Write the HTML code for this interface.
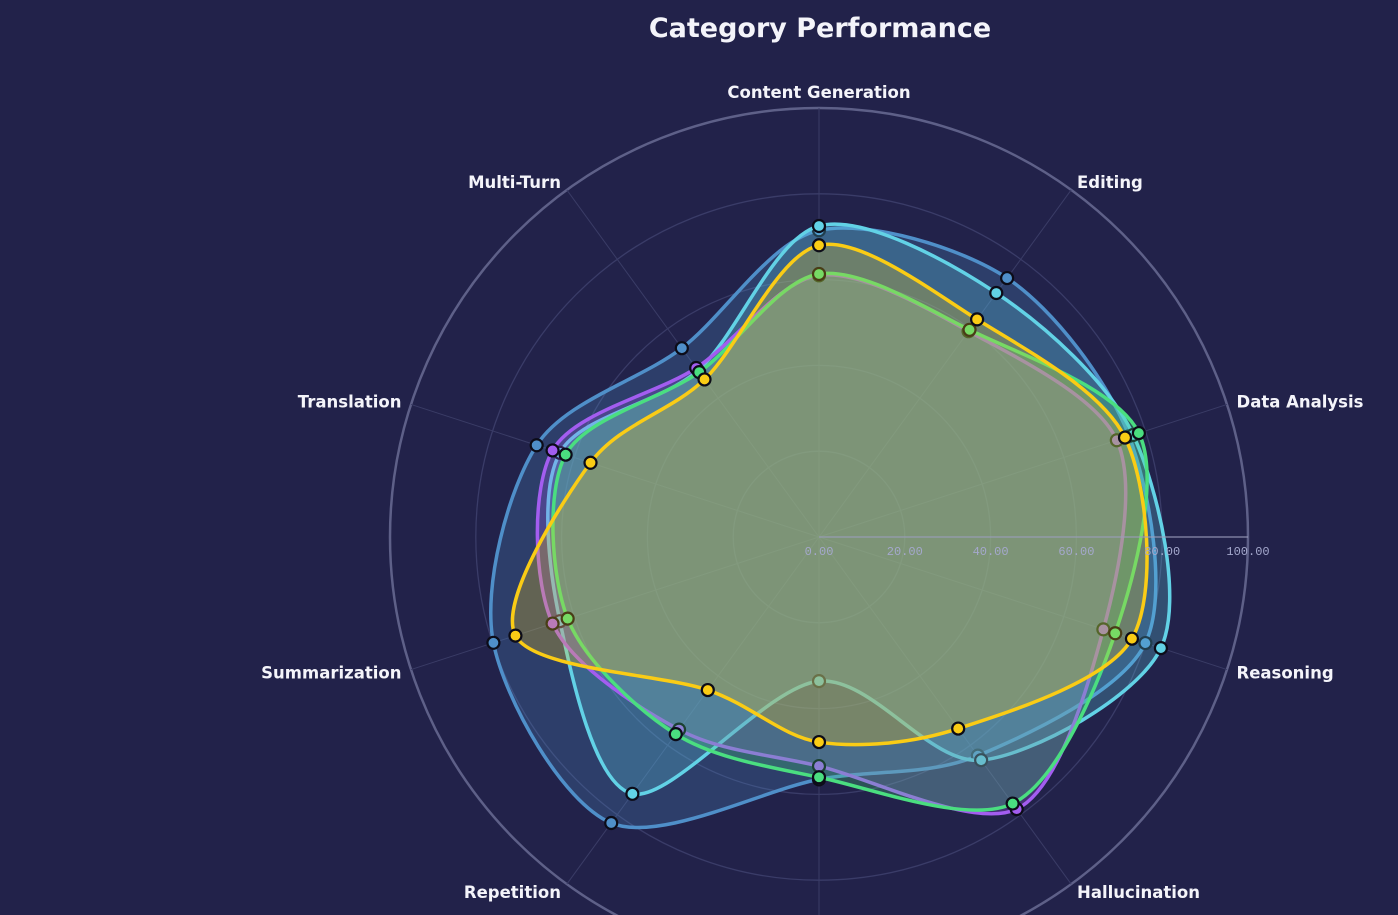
<!DOCTYPE html>
<html><head><meta charset="utf-8"><title>Category Performance</title>
<style>
html,body{margin:0;padding:0;background:#22224a;width:1398px;height:915px;overflow:hidden;}
svg{display:block;}
text{font-family:"DejaVu Sans","Liberation Sans",sans-serif;}
</style></head>
<body>
<svg id="chart" width="1398" height="915" viewBox="0 0 1398 915">
<rect x="0" y="0" width="1398" height="915" fill="#22224a"/>
<text x="820" y="37" text-anchor="middle" font-size="27" font-weight="bold" fill="#f4f4fa">Category Performance</text>
<g id="grid"></g>
<g id="series"></g>
<g id="labels"></g>
</svg>
<script>
const categories = ["Content Generation","Editing","Data Analysis","Reasoning","Hallucination","Safety","Repetition","Summarization","Translation","Multi-Turn"];
const radialTicks = [0,20,40,60,80,100];
const seriesNames = ["Model E","Model D","Model A","Model B","Model C"];
const seriesColors = ["#4f8fc9","#62d2e6","#a35df0","#4ade80","#facc15"];
const valuesE = [71.5,74.6,76,80,63,56.5,82.4,79.8,69.2,54.4];
const valuesD = [72.5,70.3,77,83.8,64.3,33.6,74,63.5,63.5,48];
const valuesA = [61,59.3,73,69.7,78.4,53.4,55.5,65.3,65.3,48.7];
const valuesB = [61.3,59.7,78.4,72.6,76.8,56,56.8,61.6,62.1,47.5];
const valuesC = [68,62.7,75,76.7,55.2,47.8,44.1,74.4,56,45.4];
const allValues = [valuesE,valuesD,valuesA,valuesB,valuesC];

const cx = 819, cy = 537, R = 429, rMax = 100;
const NS = "http://www.w3.org/2000/svg";
function rScale(v){ return v / rMax * R; }
function angleOf(i){ return (90 - i * 360 / categories.length) * Math.PI / 180; }
function pt(i, v){ const a = angleOf(i), r = rScale(v); return [cx + r*Math.cos(a), cy - r*Math.sin(a)]; }
function mk(tag, attrs, parent){ const e = document.createElementNS(NS, tag); for (const k in attrs) e.setAttribute(k, attrs[k]); parent.appendChild(e); return e; }

const grid = document.getElementById('grid');
radialTicks.forEach(t => {
  if (t === 0) return;
  const c = mk('circle', {cx:cx, cy:cy, r:rScale(t), fill:'none', stroke: t===rMax ? '#5e6088' : '#3a3c68', 'stroke-width': t===rMax ? 2.5 : 1.3}, grid);
  
  
});
categories.forEach((c, i) => {
  const p = pt(i, rMax);
  const l = mk('line', {x1:cx, y1:cy, x2:p[0], y2:p[1], stroke:'#3a3c66', 'stroke-width':1}, grid);
  
  
});

function closedSpline(pts){
  const n = pts.length; let d = 'M' + pts[0][0] + ',' + pts[0][1];
  const k = 0.15;
  for (let i = 0; i < n; i++){
    const p0 = pts[(i-1+n)%n], p1 = pts[i], p2 = pts[(i+1)%n], p3 = pts[(i+2)%n];
    const c1 = [p1[0] + (p2[0]-p0[0])*k, p1[1] + (p2[1]-p0[1])*k];
    const c2 = [p2[0] - (p3[0]-p1[0])*k, p2[1] - (p3[1]-p1[1])*k];
    d += ' C' + c1[0] + ',' + c1[1] + ' ' + c2[0] + ',' + c2[1] + ' ' + p2[0] + ',' + p2[1];
  }
  return d + 'Z';
}

const sg = document.getElementById('series');
allValues.forEach((vals, s) => {
  const g = mk('g', {}, sg);
  
  
  const pts = vals.map((v, i) => pt(i, v));
  const area = mk('path', {d: closedSpline(pts), fill: seriesColors[s], 'fill-opacity': 0.26, stroke: seriesColors[s], 'stroke-width': 3.5}, g);
  
  
  pts.forEach((p, i) => {
    const m = mk('circle', {cx:p[0], cy:p[1], r:6, fill: seriesColors[s], stroke:'#0c0c18', 'stroke-width':2.2}, g);
    
    
  });
});

const lg = document.getElementById('labels');
const ax = mk('line', {x1:cx, y1:cy, x2:cx+R, y2:cy, stroke:'#9a9cbc', 'stroke-opacity':0.55, 'stroke-width':2}, lg);


radialTicks.forEach(t => {
  const tx = mk('text', {x: cx + rScale(t), y: cy + 18, 'text-anchor':'middle', 'font-size':12, fill:'#a4a8cc', style:'font-family:"Liberation Mono",monospace'}, lg);
  tx.textContent = t.toFixed(2);
  
  
});
categories.forEach((c, i) => {
  const a = angleOf(i), r = R + 10;
  const x = cx + r*Math.cos(a), y = cy - r*Math.sin(a);
  const cs = Math.cos(a), sn = Math.sin(a);
  const anchor = Math.abs(cs) < 0.2 ? 'middle' : (cs > 0 ? 'start' : 'end');
  const t = mk('text', {x:x, y:y + 6 - (sn > 0.9 ? 6 : 0), 'text-anchor':anchor, 'font-size':16.5, 'font-weight':'bold', fill:'#f4f4fa'}, lg);
  t.textContent = c;
  
  
});
</script>
</body></html>
